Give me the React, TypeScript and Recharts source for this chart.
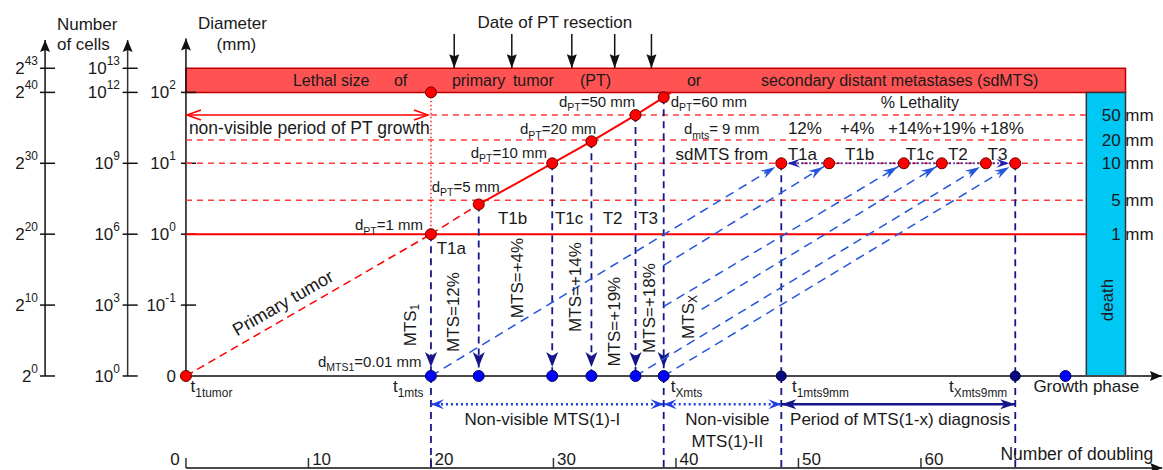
import React from 'react';
import {
  ComposedChart,
  XAxis,
  YAxis,
  Scatter,
  ReferenceArea,
  ReferenceLine,
  ReferenceDot,
} from 'recharts';

const FONT = '"Liberation Sans", Arial, Helvetica, sans-serif';
const INK = '#1a1a1a';
const RED = '#ff0000';
const RED_DASH = '#ff3b3b';
const NAVY = '#16168a';
const BLUE = '#2456dc';

// x = number of doublings, y = number of cells (log2)
const xDomain = [-15.18, 79.76];
const yDomain = [-13.26, 53.03];

// left axes
const cellTicks = [0, 10, 20, 30, 40, 43.4];
const pow2Exponents = ['0', '10', '20', '30', '40', '43'];
const pow10Exponents = ['0', '3', '6', '9', '12', '13'];
const diameterTicks = [0, 10, 20, 30, 40];
const diameterBases = ['0', '10', '10', '10', '10'];
const diameterExponents = ['', '-1', '0', '1', '2'];

// primary tumor growth
const ptDoublings = [0, 20, 23.9, 29.9, 33.1, 36.7, 39.0];
const ptCells = [0, 20, 24.2, 30, 33.1, 36.8, 39.3];
const ptDiameters = ['', '1 mm', '5 mm', '10 mm', '20 mm', '50 mm', '60 mm'];
const lethalCells = 40;

// lethality levels
const levelMm = ['50', '20', '10', '5', '1'];
const levelCells = [36.8, 33.3, 30, 24.8, 20];

// metastases
const mtsStart = ptDoublings.slice(1);
const mtsDiagnosis = [48.6, 52.5, 58.6, 61.7, 65.3, 67.7];
const mtsDiagnosisCells = 30;
const mtsLineStartX = [20, 39.0, 39.0, 42.1, 36.7, 39.0];
const mtsLineStartY = [0, 15.6, 9.8, 9.4, 0, 0];
const tStages = ['T1a', 'T1b', 'T1c', 'T2', 'T3'];
const mtsShares = ['12%', '+4%', '+14%', '+19%', '+18%'];
const mtsRotated = ['MTS=12%', 'MTS=+4%', 'MTS=+14%', 'MTS=+19%', 'MTS=+18%'];
const growthPhaseDot = 71.8;

const resectionDates = [21.9, 26.6, 31.5, 35.0, 38.0];
const doublingTicks = [0, 10, 20, 30, 40, 50, 60];

type Part = [string, string?];
type TextOpts = {
  anchor?: 'start' | 'middle' | 'end';
  size?: number;
  rotate?: number;
  fill?: string;
  center?: boolean;
};

const richText = (parts: Part[], size: number) => {
  let shift = 0;
  return parts.map(([s, kind], i) => {
    const small = kind === 'sub' || kind === 'sup';
    const target = kind === 'sub' ? size * 0.3 : kind === 'sup' ? -size * 0.42 : 0;
    const dy = target - shift;
    shift = target;
    return (
      <tspan key={i} dy={dy || undefined} fontSize={small ? size * 0.7 : size}>
        {s}
      </tspan>
    );
  });
};

const textAt = (key: string, x: number, y: number, content: string | Part[], o: TextOpts = {}) => {
  const size = o.size ?? 17;
  const parts: Part[] = typeof content === 'string' ? [[content]] : content;
  return (
    <ReferenceDot
      key={key}
      x={x}
      y={y}
      r={0}
      ifOverflow="visible"
      shape={(p: any) => (
        <text
          x={p.cx}
          y={p.cy}
          fontSize={size}
          fontFamily={FONT}
          fill={o.fill ?? INK}
          textAnchor={o.anchor ?? 'start'}
          dominantBaseline={o.center ? 'central' : 'auto'}
          transform={o.rotate ? `rotate(${o.rotate} ${p.cx} ${p.cy})` : undefined}
        >
          {richText(parts, size)}
        </text>
      )}
    />
  );
};

type LineStyle = { stroke: string; width?: number; dash?: string; start?: string; end?: string };

const seg = (key: string, x1: number, y1: number, x2: number, y2: number, s: LineStyle) => (
  <ReferenceLine
    key={key}
    ifOverflow="visible"
    segment={[
      { x: x1, y: y1 },
      { x: x2, y: y2 },
    ]}
    shape={(p: any) => (
      <line
        x1={p.x1}
        y1={p.y1}
        x2={p.x2}
        y2={p.y2}
        stroke={s.stroke}
        strokeWidth={s.width ?? 1.5}
        strokeDasharray={s.dash}
        markerStart={s.start ? `url(#${s.start})` : undefined}
        markerEnd={s.end ? `url(#${s.end})` : undefined}
      />
    )}
  />
);

const arrowMarker = (id: string, color: string, len: number, wid: number, notch: number, offset = 0) => (
  <marker
    id={id}
    viewBox={`0 0 ${len} ${wid}`}
    refX={len + offset}
    refY={wid / 2}
    markerWidth={len}
    markerHeight={wid}
    markerUnits="userSpaceOnUse"
    orient="auto-start-reverse"
    overflow="visible"
  >
    <path d={`M0,0 L${len},${wid / 2} L0,${wid} L${notch},${wid / 2} Z`} fill={color} />
  </marker>
);

const dot = (fill: string, stroke: string, r: number) => (p: any) =>
  <circle cx={p.cx} cy={p.cy} r={r} fill={fill} stroke={stroke} strokeWidth={1} />;

export default function App() {
  const ptPoints = ptDoublings.map((x, i) => ({ x, y: ptCells[i] }));
  const lethalDot = [{ x: ptDoublings[1], y: lethalCells }];
  const diagnosisPoints = mtsDiagnosis.map((x) => ({ x, y: mtsDiagnosisCells }));
  const mtsBottom = mtsStart.map((x) => ({ x, y: 0 }));
  const diagBottom = [mtsDiagnosis[0], mtsDiagnosis[5]].map((x) => ({ x, y: 0 }));
  const growthDot = [{ x: growthPhaseDot, y: 0 }];
  const axisBottom = -12.98;
  const rowY = -3.99;

  const redDashed = { stroke: RED_DASH, width: 1.5, dash: '6 5' };
  const navyDashed = { stroke: NAVY, width: 1.8, dash: '7 5' };

  return (
    <div style={{ position: 'absolute', left: 0, top: 0, background: '#fff' }}>
      <ComposedChart width={1163} height={470} margin={{ top: 0, right: 0, bottom: 0, left: 0 }}>
        <defs>
          {arrowMarker('axisArrow', '#111', 12, 10, 2)}
          {arrowMarker('dateArrow', '#111', 14, 10, 2)}
          {arrowMarker('navyArrow', NAVY, 15, 12, 4, 9)}
          {arrowMarker('blueArrow', BLUE, 15, 9, 5, 7)}
          {arrowMarker('dotArrow', '#1f3fe0', 13, 10, 5)}
          {arrowMarker('dotArrowOff', '#1f1fb0', 13, 9, 5, 6)}
          {arrowMarker('navySolid', NAVY, 15, 10, 4)}
          <marker
            id="redOpen"
            viewBox="0 0 14 10"
            refX={14}
            refY={5}
            markerWidth={14}
            markerHeight={10}
            markerUnits="userSpaceOnUse"
            orient="auto-start-reverse"
            overflow="visible"
          >
            <path d="M0,0 L14,5 L0,10" fill="none" stroke={RED} strokeWidth={1.5} />
          </marker>
        </defs>
        <XAxis type="number" dataKey="x" domain={xDomain} allowDataOverflow hide />
        <YAxis type="number" dataKey="y" domain={yDomain} allowDataOverflow hide />

        <ReferenceArea
          x1={0}
          x2={76.7}
          y1={lethalCells}
          y2={cellTicks[5]}
          fill="#ff5252"
          fillOpacity={1}
          stroke="#c00000"
          strokeWidth={1.5}
          ifOverflow="visible"
        />
        <ReferenceArea
          x1={73.5}
          x2={76.7}
          y1={0}
          y2={lethalCells}
          fill="#00c8f5"
          fillOpacity={1}
          stroke="#333"
          strokeWidth={1.5}
          ifOverflow="visible"
        />

        {/* left axes */}
        {seg('axA', -11.5, 0, -11.5, 47.4, { stroke: '#111', width: 1.5, end: 'axisArrow' })}
        {seg('axB', -4.76, 0, -4.76, 47.4, { stroke: '#333', width: 1.5, end: 'axisArrow' })}
        {seg('axC', 0, 0, 0, 47.6, { stroke: '#111', width: 1.5, end: 'axisArrow' })}
        {cellTicks.map((t, i) => seg(`tA${i}`, -11.92, t, -10.69, t, { stroke: '#111', width: 1.5 }))}
        {cellTicks.map((t, i) => seg(`tB${i}`, -5.17, t, -3.94, t, { stroke: '#111', width: 1.5 }))}
        {diameterTicks.map((t, i) => seg(`tC${i}`, -0.41, t, 0.82, t, { stroke: '#111', width: 1.5 }))}
        {cellTicks.map((t, i) =>
          textAt(`lA${i}`, -12.08, t, [['2'], [pow2Exponents[i], 'sup']], { anchor: 'end', center: true }),
        )}
        {cellTicks.map((t, i) =>
          textAt(`lB${i}`, -5.39, t, [['10'], [pow10Exponents[i], 'sup']], { anchor: 'end', center: true }),
        )}
        {diameterTicks.map((t, i) =>
          textAt(`lC${i}`, -0.82, t, [[diameterBases[i]], [diameterExponents[i], 'sup']], {
            anchor: 'end',
            center: true,
          }),
        )}

        {/* growth axis and doubling axis */}
        {seg('growth', 0, 0, 79.67, 0, { stroke: '#4a4a4a', width: 2, end: 'axisArrow' })}
        {seg('doubling', 0, axisBottom, 79.7, axisBottom, { stroke: '#4a4a4a', width: 2, end: 'axisArrow' })}
        {doublingTicks.map((t) => seg(`dt${t}`, t, axisBottom, t, -11.57, { stroke: '#333', width: 1.5 }))}

        {/* resection date arrows */}
        {resectionDates.map((d, i) => seg(`rd${i}`, d, 48.24, d, cellTicks[5], { stroke: '#111', width: 1.5, end: 'dateArrow' }))}

        {/* lethality levels */}
        {levelCells.map((c, i) =>
          i === levelCells.length - 1
            ? seg(`lv${i}`, 0, c, 73.5, c, { stroke: RED, width: 2 })
            : seg(`lv${i}`, i === 0 ? ptDoublings[1] : 0, c, 73.5, c, redDashed),
        )}
        {seg('lethalDrop', ptDoublings[1], ptCells[1], ptDoublings[1], lethalCells, {
          stroke: RED,
          width: 1.3,
          dash: '1.5 2.5',
        })}
        {seg('nonVisiblePT', 0.08, levelCells[0], 19.76, levelCells[0], {
          stroke: RED,
          width: 1.5,
          start: 'redOpen',
          end: 'redOpen',
        })}

        {/* primary tumor growth line */}
        {ptPoints.slice(1).map((p, i) =>
          seg(`pt${i}`, ptPoints[i].x, ptPoints[i].y, p.x, p.y, i < 2
            ? { stroke: RED, width: 1.5, dash: '8 5' }
            : { stroke: RED, width: 2 }),
        )}
        {seg('ptEnd', ptPoints[6].x, ptPoints[6].y, 39.6, lethalCells, { stroke: RED, width: 2 })}

        {/* metastases */}
        {mtsStart.map((x, i) => seg(`mv${i}`, x, ptCells[i + 1], x, 0, { ...navyDashed, end: 'navyArrow' }))}
        {[mtsDiagnosis[0], mtsDiagnosis[5]].map((x, i) =>
          seg(`dv${i}`, x, mtsDiagnosisCells, x, 0, navyDashed),
        )}
        {[mtsStart[0], mtsStart[5], mtsDiagnosis[0], mtsDiagnosis[5]].map((x, i) =>
          seg(`bv${i}`, x, 0, x, axisBottom, navyDashed),
        )}
        {mtsDiagnosis.map((x, i) =>
          seg(`dg${i}`, mtsLineStartX[i], mtsLineStartY[i], x, mtsDiagnosisCells, {
            stroke: BLUE,
            width: 1.5,
            dash: '9 6',
            end: 'blueArrow',
          }),
        )}
        {seg('sdRow', mtsDiagnosis[0], mtsDiagnosisCells, mtsDiagnosis[5], mtsDiagnosisCells, {
          stroke: '#1f1fb0',
          width: 2,
          dash: '1.5 2.5',
          start: 'dotArrowOff',
          end: 'dotArrowOff',
        })}
        {seg('row1', mtsStart[0], rowY, mtsStart[5], rowY, {
          stroke: '#1f3fe0',
          width: 2.5,
          dash: '2 3',
          start: 'dotArrow',
          end: 'dotArrow',
        })}
        {seg('row2', mtsStart[5], rowY, mtsDiagnosis[0], rowY, {
          stroke: '#1f3fe0',
          width: 2.5,
          dash: '2 3',
          start: 'dotArrow',
          end: 'dotArrow',
        })}
        {seg('row3', mtsDiagnosis[0], rowY, mtsDiagnosis[5], rowY, {
          stroke: NAVY,
          width: 2.5,
          start: 'navySolid',
          end: 'navySolid',
        })}

        <Scatter data={ptPoints} shape={dot('#ff0000', '#6a0000', 5.5)} isAnimationActive={false} />
        <Scatter data={lethalDot} shape={dot('#ff0000', '#6a0000', 5.5)} isAnimationActive={false} />
        <Scatter data={diagnosisPoints} shape={dot('#ff0000', '#6a0000', 5.5)} isAnimationActive={false} />
        <Scatter data={mtsBottom} shape={dot('#0000ff', '#000060', 5.5)} isAnimationActive={false} />
        <Scatter data={diagBottom} shape={dot('#0a0a80', '#000040', 5)} isAnimationActive={false} />
        <Scatter data={growthDot} shape={dot('#0000ff', '#000060', 5.5)} isAnimationActive={false} />

        {/* titles */}
        {textAt('tt1', -10.53, 48.8, 'Number')}
        {textAt('tt2', -10.53, 46.0, 'of cells')}
        {textAt('tt3', 0.98, 48.94, 'Diameter')}
        {textAt('tt4', 4.12, 45.98, '(mm)', { anchor: 'middle' })}
        {textAt('tt5', 30.12, 49.08, 'Date of PT resection', { anchor: 'middle' })}

        {/* band text */}
        {textAt('b1', 8.73, 41.72, 'Lethal size', { size: 16, center: true })}
        {textAt('b2', 16.98, 41.72, 'of', { size: 16, center: true })}
        {textAt('b3', 21.71, 41.72, 'primary', { size: 16, center: true })}
        {textAt('b4', 26.69, 41.72, 'tumor', { size: 16, center: true })}
        {textAt('b5', 32.16, 41.72, '(PT)', { size: 16, center: true })}
        {textAt('b6', 40.9, 41.72, 'or', { size: 16, center: true })}
        {textAt('b7', 46.94, 41.72, 'secondary distant metastases (sdMTS)', { size: 16, center: true })}

        {levelCells.map((c, i) => textAt(`mm${i}`, 79.0, c, `${levelMm[i]} mm`, { anchor: 'end', center: true }))}
        {textAt('death', 75.18, 10.72, 'death', { anchor: 'middle', center: true, rotate: -90 })}

        {textAt('nvp', 0.24, 34.13, 'non-visible period of PT growth', { size: 17.5 })}
        {textAt('ptl', 7.92, 10.3, 'Primary tumor', { anchor: 'middle', center: true, rotate: -30, size: 18 })}

        {/* primary tumor diameters */}
        {textAt('d1', 19.35, 20.59, [['d'], ['PT', 'sub'], [`=${ptDiameters[1]}`]], { anchor: 'end', size: 15 })}
        {textAt('d2', 20.06, 26.0, [['d'], ['PT', 'sub'], [`=${ptDiameters[2]}`]], { size: 15 })}
        {textAt('d3', 23.24, 30.75, [['d'], ['PT', 'sub'], [`=${ptDiameters[3]}`]], { size: 15 })}
        {textAt('d4', 27.27, 34.13, [['d'], ['PT', 'sub'], [`=${ptDiameters[4]}`]], { size: 15 })}
        {textAt('d5', 30.45, 37.94, [['d'], ['PT', 'sub'], [`=${ptDiameters[5]}`]], { size: 15 })}
        {textAt('d6', 39.57, 37.94, [['d'], ['PT', 'sub'], [`=${ptDiameters[6]}`]], { size: 15 })}

        {/* lethality by stage */}
        {textAt('leth', 56.71, 37.84, '% Lethality', { size: 16 })}
        {textAt('dmts', 40.65, 34.13, [['d'], ['mts', 'sub'], ['= 9 mm']], { size: 15 })}
        {[49.14, 53.39, 57.31, 60.9, 64.82].map((x, i) => textAt(`sh${i}`, x, 34.13, mtsShares[i]))}
        {textAt('sdf', 39.97, 30.47, 'sdMTS from')}
        {[49.12, 53.8, 58.75, 62.2, 65.44].map((x, i) => textAt(`ts${i}`, x, 30.47, tStages[i]))}
        {textAt('tl0', 20.47, 17.21, tStages[0])}
        {[25.47, 30.12, 34.02, 36.92].map((x, i) => textAt(`tl${i + 1}`, x, 21.44, tStages[i + 1]))}

        {/* rotated MTS labels */}
        {textAt('mts1', 18.29, 7.19, [['MTS'], ['1', 'sub']], { anchor: 'middle', center: true, rotate: -90 })}
        {[
          [21.82, 9.03],
          [27.0, 13.82],
          [31.76, 12.55],
          [34.94, 7.66],
          [37.82, 9.59],
        ].map(([x, y], i) => textAt(`mr${i}`, x, y, mtsRotated[i], { anchor: 'middle', center: true, rotate: -90 }))}
        {textAt('mtsx', 41.0, 8.32, [['MTS'], ['X', 'sub']], { anchor: 'middle', center: true, rotate: -90 })}

        {/* growth axis labels */}
        {textAt('t1', 0.38, -2.26, [['t'], ['1tumor', 'sub']])}
        {textAt('t2', 16.9, -2.26, [['t'], ['1mts', 'sub']])}
        {textAt('t3', 39.57, -2.26, [['t'], ['Xmts', 'sub']])}
        {textAt('t4', 49.47, -2.26, [['t'], ['1mts9mm', 'sub']])}
        {textAt('t5', 62.29, -2.26, [['t'], ['Xmts9mm', 'sub']])}
        {textAt('gp', 69.18, -2.26, 'Growth phase')}
        {textAt('dm', 10.78, 1.27, [['d'], ['MTS1', 'sub'], ['=0.01 mm']], { size: 15 })}

        {textAt('r1', 29.1, -6.91, 'Non-visible MTS(1)-I', { anchor: 'middle' })}
        {textAt('r2', 44.2, -6.91, 'Non-visible', { anchor: 'middle' })}
        {textAt('r3', 44.2, -10.01, 'MTS(1)-II', { anchor: 'middle' })}
        {textAt('r4', 58.3, -6.91, 'Period of MTS(1-x) diagnosis', { anchor: 'middle' })}

        {doublingTicks.map((t) =>
          textAt(`dl${t}`, t === 0 ? -0.5 : t + 0.3, -12.55, String(t), { anchor: t === 0 ? 'end' : 'start' }),
        )}
        {textAt('nd', 66.49, -11.85, 'Number of doubling', { size: 17.5 })}
      </ComposedChart>
    </div>
  );
}
